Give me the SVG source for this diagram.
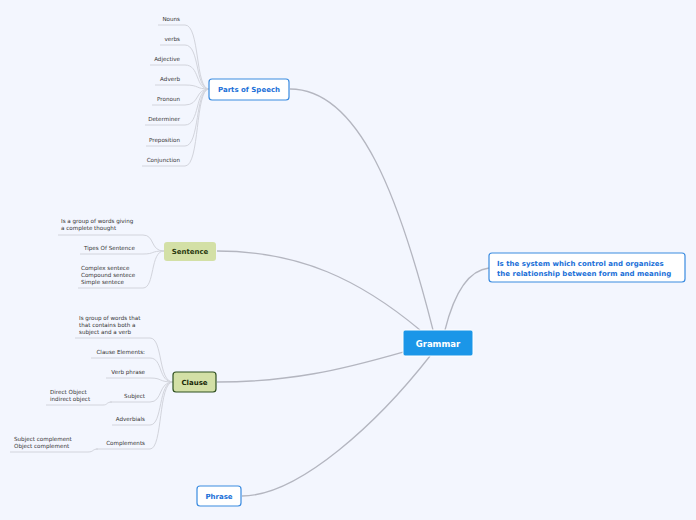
<svg xmlns="http://www.w3.org/2000/svg" width="696" height="520" viewBox="0 0 696 520">
<style>
text{font-family:"DejaVu Sans",Verdana,sans-serif}
.lf{font-size:5.6px;fill:#333}
.r{text-anchor:end}
.m{fill:none;stroke:#b4b6c0;stroke-width:1.3}
.l{fill:none;stroke:#d2d4dc;stroke-width:1}
.nb{font-weight:bold;text-anchor:middle}
</style>
<rect width="696" height="520" fill="#f3f6fe"/>
<g id="connectors">
<path class="m" d="M290,89 C360,89 400,200 433,330"/>
<path class="m" d="M217,251 C300,251 360,280 420,330"/>
<path class="m" d="M217,382 C290,382 340,370 403,352"/>
<path class="m" d="M242,496 C300,496 380,420 430,356"/>
<path class="m" d="M489,268 C470,270 455,290 445,330"/>
<g>
<path class="l" d="M158,25 H185 C200,25 195,89 209,89"/>
<path class="l" d="M160,45 H185 C200,45 195,89 209,89"/>
<path class="l" d="M150,65 H185 C200,65 195,89 209,89"/>
<path class="l" d="M155,85 H185 C200,85 195,89 209,89"/>
<path class="l" d="M152,105 H185 C200,105 195,89 209,89"/>
<path class="l" d="M145,125 H185 C200,125 195,89 209,89"/>
<path class="l" d="M146,146 H185 C200,146 195,89 209,89"/>
<path class="l" d="M142,166 H185 C200,166 195,89 209,89"/>
<path class="l" d="M58,235 H143 C155,235 150,251 164,251"/>
<path class="l" d="M80,254 H143 C155,254 150,251 164,251"/>
<path class="l" d="M78,288 H143 C155,288 150,251 164,251"/>
<path class="l" d="M75,338 H150 C163,338 158,382 173,382"/>
<path class="l" d="M91,358 H150 C163,358 158,382 173,382"/>
<path class="l" d="M106,378 H150 C163,378 158,382 173,382"/>
<path class="l" d="M110,402 H150 C163,402 158,382 173,382"/>
<path class="l" d="M112,425 H150 C163,425 158,382 173,382"/>
<path class="l" d="M96,449 H150 C163,449 158,382 173,382"/>
<path class="l" d="M46,405 H103 C108,405 106,402 112,402"/>
<path class="l" d="M10,452 H88 C94,452 92,449 98,449"/>
</g>
</g>
<g id="grammar"><rect x="403" y="330" width="70" height="26" rx="2" fill="#1b96e8" stroke="#fff" stroke-width="1"/><text x="438" y="346.5" class="nb" font-size="8.5" fill="#fff">Grammar</text></g>
<g id="definition"><rect x="489" y="253" width="196" height="29" rx="3" fill="#fff" stroke="#3a8be0" stroke-width="1.2"/><text x="497" y="266" font-size="7" font-weight="bold" fill="#1a6fd8">Is the system which control and organizes</text><text x="497" y="275.5" font-size="7" font-weight="bold" fill="#1a6fd8">the relationship between form and meaning</text></g>
<g id="parts"><rect x="209" y="79" width="80" height="21" rx="3" fill="#fff" stroke="#3a8be0" stroke-width="1.2"/><text x="249" y="92" class="nb" font-size="7" fill="#1a6fd8">Parts of Speech</text>
<text class="lf r" x="180" y="21">Nouns</text><text class="lf r" x="180" y="41">verbs</text><text class="lf r" x="180" y="61">Adjective</text><text class="lf r" x="180" y="81">Adverb</text><text class="lf r" x="180" y="101">Pronoun</text><text class="lf r" x="180" y="121">Determiner</text><text class="lf r" x="180" y="142">Preposition</text><text class="lf r" x="180" y="162">Conjunction</text></g>
<g id="sentence"><rect x="164" y="242" width="52" height="19" rx="3" fill="#d3e0a6"/><text x="190" y="254" class="nb" font-size="7" fill="#2a3a10">Sentence</text>
<text class="lf" x="61" y="223">Is a group of words giving</text><text class="lf" x="61" y="230">a complete thought</text><text class="lf" x="84" y="250">Tipes Of Sentence</text><text class="lf" x="81" y="270">Complex sentece</text><text class="lf" x="81" y="277">Compound sentece</text><text class="lf" x="81" y="284">Simple sentece</text></g>
<g id="clause"><rect x="173" y="372" width="43" height="20" rx="3" fill="#d3e0a6" stroke="#2f5020" stroke-width="1.2"/><text x="194.5" y="385" class="nb" font-size="7" fill="#1a2a08">Clause</text>
<text class="lf" x="79" y="320">Is group of words that</text><text class="lf" x="79" y="327">that contains both a</text><text class="lf" x="79" y="334">subject and a verb</text>
<text class="lf r" x="145" y="354">Clause Elements:</text><text class="lf r" x="145" y="374">Verb phrase</text><text class="lf r" x="145" y="398">Subject</text><text class="lf" x="50" y="394">Direct Object</text><text class="lf" x="50" y="401">indirect object</text><text class="lf r" x="145" y="421">Adverbials</text><text class="lf r" x="145" y="445">Complements</text><text class="lf" x="14" y="441">Subject complement</text><text class="lf" x="14" y="448">Object complement</text></g>
<g id="phrase"><rect x="197" y="486" width="44" height="20" rx="3" fill="#fff" stroke="#3a8be0" stroke-width="1.2"/><text x="219" y="499" class="nb" font-size="7" fill="#1a6fd8">Phrase</text></g>
</svg>
